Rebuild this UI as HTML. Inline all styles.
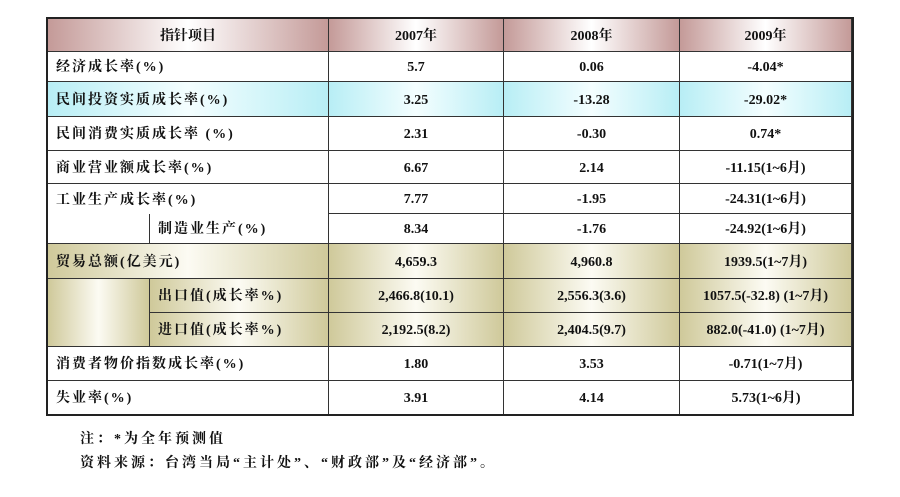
<!DOCTYPE html>
<html><head><meta charset="utf-8"><style>
body{margin:0;width:900px;height:497px;background:#fff;position:relative;overflow:hidden;font-family:"Liberation Serif","Noto Serif CJK SC",serif;font-weight:bold;color:#111}
.c{position:absolute;box-sizing:border-box;display:flex;align-items:center;justify-content:center;font-size:14px;line-height:16px;border-right:1px solid #333;border-bottom:1px solid #333}
.c span{display:block;line-height:16px;height:16px;margin-top:3px}
.l{justify-content:flex-start;padding-left:8px;letter-spacing:2px}
.h{background:linear-gradient(to right,#c49a98,#fff 50%,#c49a98)}
.b{background:linear-gradient(to right,#b8eef5,#f4feff 50%,#b8eef5)}
.o{background:linear-gradient(to right,#cfc99a,#fcfbf3 50%,#cfc99a)}
#t{position:absolute;left:46px;top:17px;width:808px;height:399px;border:2px solid #222;box-sizing:border-box}
.n{position:absolute;left:80px;font-size:14px;letter-spacing:3px;line-height:16px}
</style></head><body>
<div id="t"></div>
<div class="c h" style="left:48px;top:19px;width:281px;height:33px"><span>指针项目</span></div>
<div class="c h" style="left:329px;top:19px;width:175px;height:33px"><span>2007年</span></div>
<div class="c h" style="left:504px;top:19px;width:176px;height:33px"><span>2008年</span></div>
<div class="c h" style="left:680px;top:19px;width:172px;height:33px"><span>2009年</span></div>

<div class="c l" style="left:48px;top:52px;width:281px;height:30px"><span>经济成长率(%)</span></div>
<div class="c" style="left:329px;top:52px;width:175px;height:30px"><span>5.7</span></div>
<div class="c" style="left:504px;top:52px;width:176px;height:30px"><span>0.06</span></div>
<div class="c" style="left:680px;top:52px;width:172px;height:30px"><span>-4.04*</span></div>

<div class="c l b" style="left:48px;top:82px;width:281px;height:35px"><span>民间投资实质成长率(%)</span></div>
<div class="c b" style="left:329px;top:82px;width:175px;height:35px"><span>3.25</span></div>
<div class="c b" style="left:504px;top:82px;width:176px;height:35px"><span>-13.28</span></div>
<div class="c b" style="left:680px;top:82px;width:172px;height:35px"><span>-29.02*</span></div>

<div class="c l" style="left:48px;top:117px;width:281px;height:34px"><span>民间消费实质成长率 (%)</span></div>
<div class="c" style="left:329px;top:117px;width:175px;height:34px"><span>2.31</span></div>
<div class="c" style="left:504px;top:117px;width:176px;height:34px"><span>-0.30</span></div>
<div class="c" style="left:680px;top:117px;width:172px;height:34px"><span>0.74*</span></div>

<div class="c l" style="left:48px;top:151px;width:281px;height:33px"><span>商业营业额成长率(%)</span></div>
<div class="c" style="left:329px;top:151px;width:175px;height:33px"><span>6.67</span></div>
<div class="c" style="left:504px;top:151px;width:176px;height:33px"><span>2.14</span></div>
<div class="c" style="left:680px;top:151px;width:172px;height:33px"><span>-11.15(1~6月)</span></div>

<div class="c l" style="left:48px;top:184px;width:281px;height:30px;border-bottom:none"><span>工业生产成长率(%)</span></div>
<div class="c" style="left:329px;top:184px;width:175px;height:30px"><span>7.77</span></div>
<div class="c" style="left:504px;top:184px;width:176px;height:30px"><span>-1.95</span></div>
<div class="c" style="left:680px;top:184px;width:172px;height:30px"><span>-24.31(1~6月)</span></div>

<div class="c" style="left:48px;top:214px;width:102px;height:30px;border-bottom:none"></div>
<div class="c l" style="left:150px;top:214px;width:179px;height:30px"><span>制造业生产(%)</span></div>
<div class="c" style="left:329px;top:214px;width:175px;height:30px"><span>8.34</span></div>
<div class="c" style="left:504px;top:214px;width:176px;height:30px"><span>-1.76</span></div>
<div class="c" style="left:680px;top:214px;width:172px;height:30px"><span>-24.92(1~6月)</span></div>
<div style="position:absolute;left:48px;top:243px;width:102px;height:1px;background:#333"></div>

<div class="c l o" style="left:48px;top:244px;width:281px;height:35px"><span>贸易总额(亿美元)</span></div>
<div class="c o" style="left:329px;top:244px;width:175px;height:35px"><span>4,659.3</span></div>
<div class="c o" style="left:504px;top:244px;width:176px;height:35px"><span>4,960.8</span></div>
<div class="c o" style="left:680px;top:244px;width:172px;height:35px"><span>1939.5(1~7月)</span></div>

<div class="c o" style="left:48px;top:279px;width:102px;height:68px"></div>
<div class="c l o" style="left:150px;top:279px;width:179px;height:34px"><span>出口值(成长率%)</span></div>
<div class="c o" style="left:329px;top:279px;width:175px;height:34px"><span>2,466.8(10.1)</span></div>
<div class="c o" style="left:504px;top:279px;width:176px;height:34px"><span>2,556.3(3.6)</span></div>
<div class="c o" style="left:680px;top:279px;width:172px;height:34px"><span>1057.5(-32.8) (1~7月)</span></div>

<div class="c l o" style="left:150px;top:313px;width:179px;height:34px"><span>进口值(成长率%)</span></div>
<div class="c o" style="left:329px;top:313px;width:175px;height:34px"><span>2,192.5(8.2)</span></div>
<div class="c o" style="left:504px;top:313px;width:176px;height:34px"><span>2,404.5(9.7)</span></div>
<div class="c o" style="left:680px;top:313px;width:172px;height:34px"><span>882.0(-41.0) (1~7月)</span></div>

<div class="c l" style="left:48px;top:347px;width:281px;height:34px"><span>消费者物价指数成长率(%)</span></div>
<div class="c" style="left:329px;top:347px;width:175px;height:34px"><span>1.80</span></div>
<div class="c" style="left:504px;top:347px;width:176px;height:34px"><span>3.53</span></div>
<div class="c" style="left:680px;top:347px;width:172px;height:34px"><span>-0.71(1~7月)</span></div>

<div class="c l" style="left:48px;top:381px;width:281px;height:33px;border-bottom:none"><span>失业率(%)</span></div>
<div class="c" style="left:329px;top:381px;width:175px;height:33px;border-bottom:none"><span>3.91</span></div>
<div class="c" style="left:504px;top:381px;width:176px;height:33px;border-bottom:none"><span>4.14</span></div>
<div class="c" style="left:680px;top:381px;width:172px;height:33px;border:none"><span>5.73(1~6月)</span></div>

<div class="n" style="top:432px">注：*为全年预测值</div>
<div class="n" style="top:456px">资料来源：台湾当局“主计处”、“财政部”及“经济部”。</div>
</body></html>
